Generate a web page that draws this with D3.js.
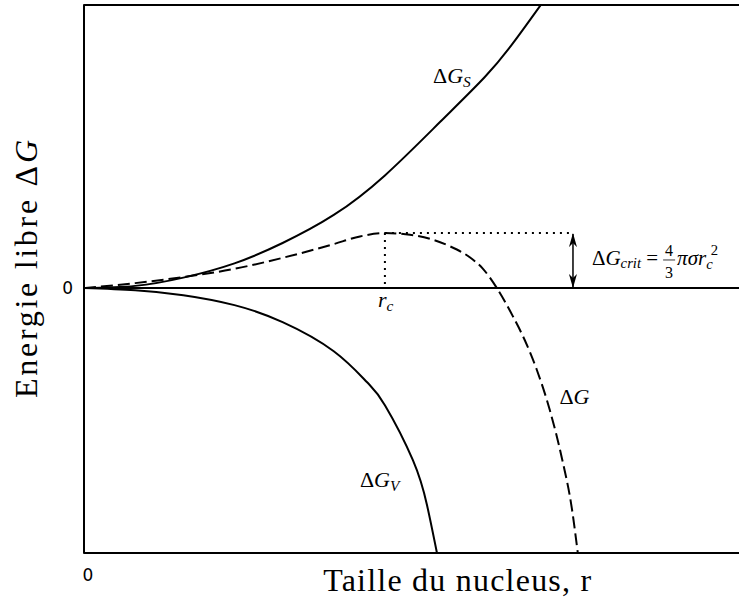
<!DOCTYPE html>
<html>
<head>
<meta charset="utf-8">
<script src="https://cdn.jsdelivr.net/npm/d3@7"></script>
<style>
  body { margin: 0; background: #fff; }
  text { fill: #000; }
</style>
</head>
<body>
<div id="dataViz"></div>
<script>
//DATA (r in units of r_c, energy in units of dG_crit)
const rSurface = [0, 0.17, 0.33, 0.5, 0.66, 0.83, 1.0, 1.183, 1.332, 1.425, 1.518];
const gSurface = [0, 0.04, 0.19, 0.45, 0.82, 1.33, 2.05, 3.02, 3.84, 4.45, 5.15];

const rVolume = [0, 0.17, 0.33, 0.5, 0.66, 0.83, 0.94, 1.0, 1.093, 1.14, 1.173];
const gVolume = [0, -0.04, -0.13, -0.31, -0.62, -1.15, -1.71, -2.13, -3.13, -3.95, -4.82];

const rTotal = [0, 0.17, 0.33, 0.5, 0.66, 0.83, 0.917, 1.0, 1.083, 1.16, 1.216, 1.282, 1.326, 1.372, 1.425, 1.465, 1.505, 1.548, 1.588, 1.621, 1.641];
const gTotal = [0, 0.09, 0.2, 0.35, 0.55, 0.8, 0.94, 1.0, 0.97, 0.88, 0.76, 0.56, 0.35, 0, -0.51, -0.95, -1.49, -2.22, -3.09, -4.0, -4.82];

const rCrit = 1;
const gCrit = 1;
const rArrow = 1.625;
const tickLabels = ["0"];

//DIMENSIONS
let WIDTH = 739,
  HEIGHT = 601;

let svg = d3
  .select("#dataViz")
  .append("svg")
  .attr("width", WIDTH)
  .attr("height", HEIGHT);

let xScale = d3.scaleLinear().domain([0, 2.2]).range([84, 746]);
let yScale = d3.scaleLinear().domain([-4.82, 5.15]).range([553, 5]);

const serif = "'Liberation Serif', 'DejaVu Serif', 'Times New Roman', serif";

//FRAME (left, top, bottom spines)
let [x0, x1] = xScale.domain();
let [y0, y1] = yScale.domain();
svg
  .append("path")
  .attr(
    "d",
    `M${xScale(x1)},${yScale(y1)}H${xScale(x0)}V${yScale(y0)}H${xScale(x1)}`
  )
  .attr("fill", "none")
  .attr("stroke", "black")
  .attr("stroke-width", 2)
  .attr("stroke-linejoin", "round");

//zero line
svg
  .append("line")
  .attr("x1", xScale(x0))
  .attr("x2", xScale(x1))
  .attr("y1", yScale(0))
  .attr("y2", yScale(0))
  .attr("stroke", "black")
  .attr("stroke-width", 2);

//tick labels
svg
  .append("text")
  .attr("x", xScale(0) - 11)
  .attr("y", yScale(0))
  .attr("dy", "0.36em")
  .attr("text-anchor", "end")
  .style("font", "17px 'DejaVu Sans', sans-serif")
  .text(tickLabels[0]);

svg
  .append("text")
  .attr("x", xScale(0) + 4)
  .attr("y", yScale(y0) + 28)
  .attr("text-anchor", "middle")
  .style("font", "17px 'DejaVu Sans', sans-serif")
  .text(tickLabels[0]);

//CURVES
function drawCurve(rs, gs, dash, curve) {
  let line = d3
    .line()
    .x((d) => xScale(d[0]))
    .y((d) => yScale(d[1]))
    .curve(curve);
  svg
    .append("path")
    .datum(d3.zip(rs, gs))
    .attr("d", line)
    .attr("fill", "none")
    .attr("stroke", "black")
    .attr("stroke-width", 2)
    .attr("stroke-dasharray", dash);
}

drawCurve(rSurface, gSurface, null, d3.curveNatural);
drawCurve(rVolume, gVolume, null, d3.curveNatural);
drawCurve(rTotal, gTotal, "12,5", d3.curveMonotoneX);

//dotted guides at the critical radius
svg
  .append("line")
  .attr("x1", xScale(rCrit))
  .attr("x2", xScale(rArrow))
  .attr("y1", yScale(gCrit))
  .attr("y2", yScale(gCrit))
  .attr("stroke", "black")
  .attr("stroke-width", 2)
  .attr("stroke-dasharray", "2,5");

svg
  .append("line")
  .attr("x1", xScale(rCrit))
  .attr("x2", xScale(rCrit))
  .attr("y1", yScale(gCrit))
  .attr("y2", yScale(0))
  .attr("stroke", "black")
  .attr("stroke-width", 2)
  .attr("stroke-dasharray", "2,5");

//double arrow
svg
  .append("defs")
  .append("marker")
  .attr("id", "head")
  .attr("viewBox", "0 -4 14 8")
  .attr("refX", 13)
  .attr("refY", 0)
  .attr("markerWidth", 14)
  .attr("markerHeight", 8)
  .attr("markerUnits", "userSpaceOnUse")
  .attr("orient", "auto-start-reverse")
  .append("path")
  .attr("d", "M0,-4L14,0L0,4L4,0Z")
  .attr("fill", "black");

svg
  .append("line")
  .attr("x1", xScale(rArrow))
  .attr("x2", xScale(rArrow))
  .attr("y1", yScale(0) - 1)
  .attr("y2", yScale(gCrit) + 1)
  .attr("stroke", "black")
  .attr("stroke-width", 1.5)
  .attr("marker-start", "url(#head)")
  .attr("marker-end", "url(#head)");

//LABELS
function mathLabel(x, y, parts, size) {
  let t = svg
    .append("text")
    .attr("x", x)
    .attr("y", y)
    .style("font-family", serif)
    .style("font-size", size + "px");
  parts.forEach((p) => {
    let s = t.append("tspan").text(p.t);
    if (p.i) s.style("font-style", "italic");
    if (p.small) s.style("font-size", size * 0.7 + "px");
    if (p.dy) s.attr("dy", p.dy);
    if (p.dx) s.attr("dx", p.dx);
  });
  return t;
}

mathLabel(xScale(1.16), yScale(3.73), [{ t: "Δ" }, { t: "G", i: true }, { t: "S", i: true, small: true, dy: 4 }], 22);
mathLabel(xScale(1.58), yScale(-2.11), [{ t: "Δ" }, { t: "G", i: true }], 22);
mathLabel(xScale(0.917), yScale(-3.62), [{ t: "Δ" }, { t: "G", i: true }, { t: "V", i: true, small: true, dy: 4 }], 22);
mathLabel(xScale(0.977), yScale(-0.35), [{ t: "r", i: true }, { t: "c", i: true, small: true, dy: 4 }], 22);

//dG_crit = 4/3 pi sigma r_c^2
let bx = xScale(1.688),
  by = yScale(0.42);
let lhs = mathLabel(bx, by, [
  { t: "Δ" },
  { t: "G", i: true },
  { t: "crit", i: true, small: true, dy: 3 },
  { t: " =", dy: -3 },
], 21);
let lhsEnd = bx + lhs.node().getComputedTextLength();
let fx = lhsEnd + 11;
[["4", -9], ["3", 13]].forEach(([s, dy]) => {
  svg
    .append("text")
    .attr("x", fx)
    .attr("y", by + dy)
    .attr("text-anchor", "middle")
    .style("font", `16px ${serif}`)
    .text(s);
});
svg
  .append("line")
  .attr("x1", fx - 6)
  .attr("x2", fx + 6)
  .attr("y1", by - 5)
  .attr("y2", by - 5)
  .attr("stroke", "black")
  .attr("stroke-width", 0.8);
mathLabel(fx + 8, by, [
  { t: "πσr", i: true },
  { t: "c", i: true, small: true, dy: 4 },
  { t: "2", small: true, dx: -2, dy: -14 },
], 21);

//AXIS TITLES
svg
  .append("text")
  .attr("x", xScale(1.24))
  .attr("y", 591)
  .attr("text-anchor", "middle")
  .attr("textLength", 268)
  .style("font", `32px ${serif}`)
  .text("Taille du nucleus, r");

let yTitle = svg
  .append("text")
  .attr("transform", `translate(37, 269) rotate(-90)`)
  .attr("text-anchor", "middle")
  .attr("textLength", 258)
  .style("font", `32px ${serif}`);
yTitle.append("tspan").text("Energie libre Δ");
yTitle.append("tspan").style("font-style", "italic").text("G");
</script>
</body>
</html>
